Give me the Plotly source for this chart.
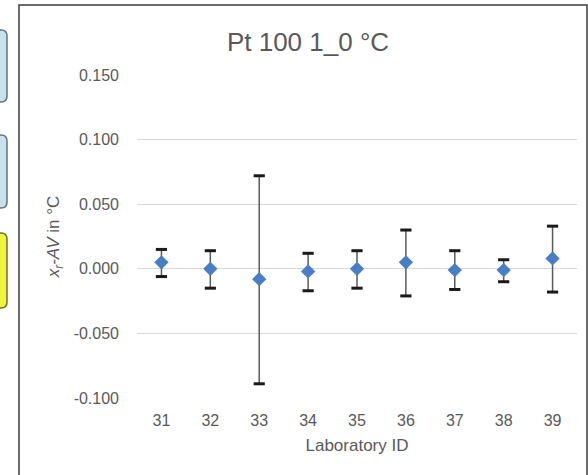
import plotly.graph_objects as go

lab_ids = ["31", "32", "33", "34", "35", "36", "37", "38", "39"]
deviation = [0.005, 0.000, -0.008, -0.002, 0.000, 0.005, -0.001, -0.001, 0.008]
upper_limit = [0.015, 0.014, 0.072, 0.012, 0.014, 0.030, 0.014, 0.007, 0.033]
lower_limit = [-0.006, -0.015, -0.089, -0.017, -0.015, -0.021, -0.016, -0.010, -0.018]
y_ticks = [-0.100, -0.050, 0.000, 0.050, 0.100, 0.150]
y_tick_text = ["-0.100", "-0.050", "0.000", "0.050", "0.100", "0.150"]

err_plus = [u - d for u, d in zip(upper_limit, deviation)]
err_minus = [d - l for d, l in zip(deviation, lower_limit)]

W, H = 588, 475
L, R, T, B = 137, 11, 75, 77
pw, ph = W - L - R, H - T - B

def px(x):
    return (x - L) / pw

def py(y):
    return (H - B - y) / ph

def rounded_rect(x0, y0, x1, y1, r):
    X0, X1 = px(x0), px(x1)
    Y0, Y1 = py(y0), py(y1)
    rx, ry = r / pw, r / ph
    return (f"M {X0+rx},{Y0} L {X1-rx},{Y0} Q {X1},{Y0} {X1},{Y0-ry} "
            f"L {X1},{Y1+ry} Q {X1},{Y1} {X1-rx},{Y1} L {X0+rx},{Y1} "
            f"Q {X0},{Y1} {X0},{Y1+ry} L {X0},{Y0-ry} Q {X0},{Y0} {X0+rx},{Y0} Z")

fig = go.Figure()
# error bar stems
fig.add_trace(go.Scatter(
    x=lab_ids, y=deviation, mode="markers",
    marker=dict(size=1, color="rgba(0,0,0,0)"),
    error_y=dict(type="data", symmetric=False, array=err_plus, arrayminus=err_minus,
                 color="#5a5a5a", thickness=1.5, width=0),
    showlegend=False, hoverinfo="skip",
))
# error bar caps
fig.add_trace(go.Scatter(
    x=lab_ids + lab_ids, y=upper_limit + lower_limit, mode="markers",
    marker=dict(symbol="line-ew", size=8, line=dict(color="#1a1a1a", width=3)),
    showlegend=False, hoverinfo="skip",
))
# values
fig.add_trace(go.Scatter(
    x=lab_ids, y=deviation, mode="markers",
    marker=dict(symbol="diamond", size=11, color="#4A7EC4"),
    showlegend=False,
))

shapes = [
    dict(type="rect", xref="paper", yref="paper", x0=px(19), x1=px(587), y0=py(5), y1=py(490),
         line=dict(color="#3c3c3c", width=1.5), fillcolor="rgba(0,0,0,0)", layer="below"),
    dict(type="path", xref="paper", yref="paper", path=rounded_rect(-12, 30, 7, 102, 6),
         fillcolor="#C9E1EA", line=dict(color="#5A7486", width=1.5)),
    dict(type="path", xref="paper", yref="paper", path=rounded_rect(-12, 135, 7, 208, 6),
         fillcolor="#C9E1EA", line=dict(color="#5A7486", width=1.5)),
    dict(type="path", xref="paper", yref="paper", path=rounded_rect(-12, 233, 7, 308, 6),
         fillcolor="#F0F53A", line=dict(color="#6E6E3A", width=1.5)),
]

fig.update_layout(
    width=W, height=H,
    margin=dict(l=L, r=R, t=T, b=B),
    paper_bgcolor="white", plot_bgcolor="white",
    font=dict(family="Liberation Sans, Arial, sans-serif", color="#595959"),
    title=dict(text="Pt 100 1_0 °C", x=308 / W, xanchor="center", y=1 - 42 / H, yanchor="middle",
               font=dict(size=26, color="#595959")),
    shapes=shapes,
    xaxis=dict(type="category", range=[-0.5, 8.5], showgrid=False, zeroline=False, showline=False,
               ticks="", tickfont=dict(size=16, color="#595959"), ticklabelstandoff=11,
               title=dict(text="Laboratory ID", font=dict(size=17, color="#595959"), standoff=11)),
    yaxis=dict(range=[-0.1, 0.15], tickvals=y_ticks, ticktext=y_tick_text,
               showgrid=True, gridcolor="#D9D9D9", gridwidth=1, zeroline=False, showline=False,
               ticks="", tickfont=dict(size=16, color="#595959"), ticklabelstandoff=17,
               title=dict(text="<i>x</i><sub><i>r</i></sub><i>-AV</i> in °C",
                          font=dict(size=17, color="#595959"), standoff=9)),
)

fig.write_html("out.html", config={"displayModeBar": False},
               post_script="document.body.style.margin='0';document.body.style.overflow='hidden';")
